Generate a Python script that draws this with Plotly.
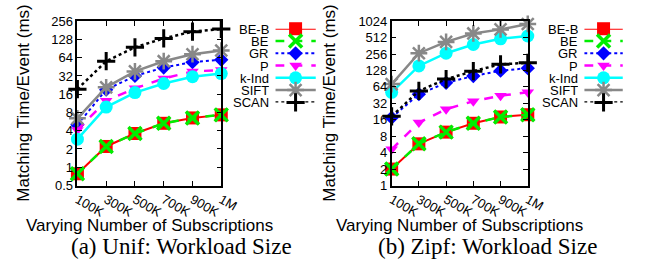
import plotly.graph_objects as go
import math

categories = ["100K", "300K", "500K", "700K", "900K", "1M"]
series_names = ["BE-B", "BE", "GR", "P", "k-Ind", "SIFT", "SCAN"]

# (a) Unif
unif_beb = [0.78, 2.2, 3.6, 5.3, 6.5, 7.3]
unif_be = [0.78, 2.2, 3.6, 5.3, 6.5, 7.3]
unif_gr = [5.0, 19, 32, 44, 54, 59]
unif_p = [4.1, 12.5, 20, 29, 38, 40]
unif_kind = [2.9, 9.8, 17, 24, 31, 35]
unif_sift = [6.4, 20.8, 38, 56, 73, 84]
unif_scan = [19.4, 56, 95, 133, 172, 190]

# (b) Zipf
zipf_beb = [2.0, 5.8, 9.5, 13.8, 18, 19.8]
zipf_be = [2.0, 5.8, 9.5, 13.8, 18, 19.8]
zipf_gr = [17.5, 47, 76, 101, 127, 141]
zipf_p = [4.6, 14.2, 25, 35, 44, 51]
zipf_kind = [51, 155, 265, 383, 487, 548]
zipf_sift = [72, 265, 427, 610, 724, 910]
zipf_scan = [18.5, 54, 89, 124, 166, 177]

unif_ticks = [0.5, 1, 2, 4, 8, 16, 32, 64, 128, 256]
zipf_ticks = [1, 2, 4, 8, 16, 32, 64, 128, 256, 512, 1024]

styles = {
    "BE-B": dict(color="#ff0000", dash="solid", lw=2, symbol="square", ms=13, mlw=0),
    "BE": dict(color="#00ee00", dash="dash", lw=2.5, symbol="x-thin-open", ms=13, mlw=3.5),
    "GR": dict(color="#0000ff", dash="dot", lw=2, symbol="diamond", ms=11, mlw=0),
    "P": dict(color="#ff00ff", dash="dash", lw=2.5, symbol="triangle-down", ms=11, mlw=0),
    "k-Ind": dict(color="#00ffff", dash="solid", lw=2.5, symbol="circle", ms=13, mlw=0),
    "SIFT": dict(color="#888888", dash="solid", lw=2.5, symbol="asterisk-open", ms=14, mlw=2.5),
    "SCAN": dict(color="#000000", dash="dot", lw=2.5, symbol="cross-thin-open", ms=13, mlw=3),
}

unif = dict(zip(series_names, [unif_beb, unif_be, unif_gr, unif_p, unif_kind, unif_sift, unif_scan]))
zipf = dict(zip(series_names, [zipf_beb, zipf_be, zipf_gr, zipf_p, zipf_kind, zipf_sift, zipf_scan]))

W, H = 665, 270
FONT = "Liberation Sans"
SERIF = "Liberation Serif"

fig = go.Figure()


def marker(st):
    return dict(symbol=st["symbol"], size=st["ms"], color=st["color"],
                line=dict(width=st["mlw"], color=st["color"]))


for data, xa, ya in [(unif, "x", "y"), (zipf, "x2", "y2")]:
    for name in series_names:
        st = styles[name]
        fig.add_trace(go.Scatter(
            x=categories, y=data[name], xaxis=xa, yaxis=ya, name=name,
            mode="lines+markers", showlegend=False, cliponaxis=False,
            line=dict(color=st["color"], width=st["lw"], dash=st["dash"]),
            marker=marker(st)))

# legend keys (one row per series index)
for xa, ya in [("x3", "y3"), ("x4", "y4")]:
    for i, name in enumerate(series_names):
        st = styles[name]
        fig.add_trace(go.Scatter(
            x=[0, 1], y=[i, i], xaxis=xa, yaxis=ya, mode="lines", showlegend=False,
            cliponaxis=False, hoverinfo="skip",
            line=dict(color=st["color"], width=st["lw"], dash=st["dash"])))
        fig.add_trace(go.Scatter(
            x=[0.5], y=[i], xaxis=xa, yaxis=ya, mode="markers", showlegend=False,
            cliponaxis=False, hoverinfo="skip", marker=marker(st)))
        fig.add_annotation(xref=xa, yref=ya, x=0, y=i, text=name, showarrow=False,
                           xanchor="right", yanchor="middle", xshift=-5,
                           height=12, valign="middle", borderpad=0,
                           font=dict(family=FONT, size=13, color="black"))


def px_x(p):
    return p / W


def px_y(p):
    return 1 - p / H


top, bot = 15, 189
axis_common = dict(showline=True, linecolor="black", linewidth=1.5, mirror="ticks",
                   ticks="inside", ticklen=5, tickcolor="black", tickwidth=1,
                   showgrid=False, zeroline=False,
                   tickfont=dict(family=FONT, size=13, color="black"))

fig.update_layout(
    width=W, height=H, margin=dict(l=0, r=0, t=0, b=0),
    paper_bgcolor="white", plot_bgcolor="white",
    xaxis=dict(domain=[px_x(75), px_x(224)], range=[0, 5], type="category",
               tickangle=30, anchor="y", **axis_common),
    yaxis=dict(domain=[px_y(bot), px_y(top)], type="log",
               range=[math.log10(0.5), math.log10(256)],
               tickvals=unif_ticks, ticktext=[str(t) for t in unif_ticks],
               anchor="x", **axis_common),
    xaxis2=dict(domain=[px_x(400.5), px_x(541.5)], range=[0, 5], type="category",
                tickangle=30, anchor="y2", **axis_common),
    yaxis2=dict(domain=[px_y(bot), px_y(top)], type="log",
                range=[0, math.log10(1024)],
                tickvals=zipf_ticks, ticktext=[str(t) for t in zipf_ticks],
                anchor="x2", **axis_common),
    xaxis3=dict(domain=[px_x(280), px_x(322)], range=[0, 1], visible=False, anchor="y3"),
    yaxis3=dict(domain=[px_y(101), px_y(23)], range=[6, 0], visible=False, anchor="x3"),
    xaxis4=dict(domain=[px_x(600), px_x(640)], range=[0, 1], visible=False, anchor="y4"),
    yaxis4=dict(domain=[px_y(101), px_y(23)], range=[6, 0], visible=False, anchor="x4"),
    showlegend=False,
)

ymid = px_y((top + bot) / 2)
for xc, cap, xcap, xt in [(19, "(a) Unif: Workload Size", 183, 150),
                          (336, "(b) Zipf: Workload Size", 500, 471)]:
    fig.add_annotation(xref="paper", yref="paper", x=px_x(xc), y=ymid,
                       text="Matching Time/Event (ms)", textangle=-90, showarrow=False,
                       xanchor="center", yanchor="middle",
                       font=dict(family=FONT, size=17, color="black"))
    fig.add_annotation(xref="paper", yref="paper", x=px_x(xt), y=px_y(231),
                       text="Varying Number of Subscriptions", showarrow=False,
                       xanchor="center", yanchor="middle",
                       font=dict(family=FONT, size=17, color="black"))
    fig.add_annotation(xref="paper", yref="paper", x=px_x(xcap), y=px_y(254),
                       text=cap, showarrow=False, xanchor="center", yanchor="middle",
                       font=dict(family=SERIF, size=23, color="black"))

fig.write_html("out.html", config={"displayModeBar": False},
               post_script="document.body.style.margin='0';document.body.style.padding='0';document.documentElement.style.overflow='hidden';")
